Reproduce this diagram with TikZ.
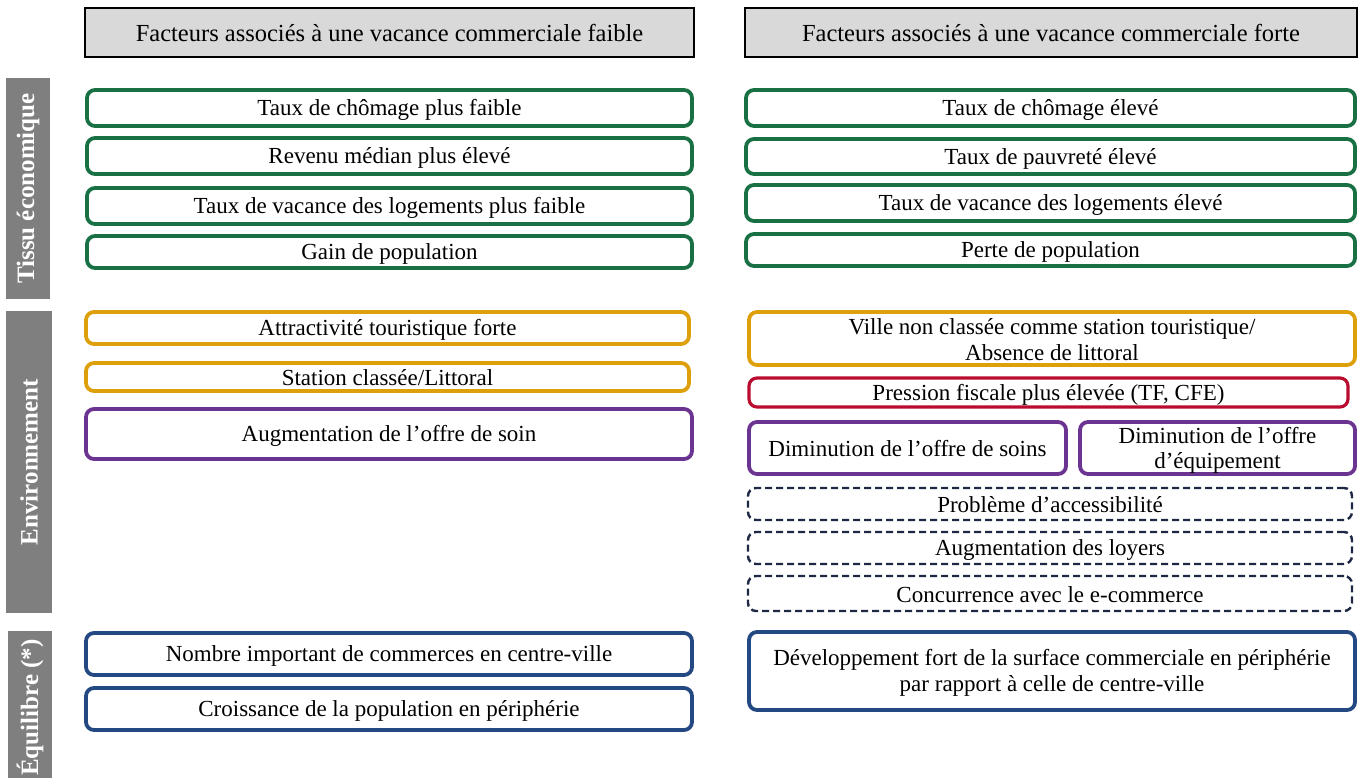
\documentclass[tikz,border=0pt]{standalone}
\usepackage{fontspec}
\setmainfont{Liberation Serif}
\definecolor{cgreen}{RGB}{24,112,68}
\definecolor{corange}{RGB}{222,160,10}
\definecolor{cpurple}{RGB}{107,52,145}
\definecolor{cred}{RGB}{186,12,47}
\definecolor{cblue}{RGB}{36,72,130}
\definecolor{cnavy}{RGB}{30,40,68}
\definecolor{cside}{RGB}{127,127,127}
\definecolor{chead}{RGB}{217,217,217}
\newcommand\fbx[7]{\node[#2, minimum width={(#5-#3)*1pt}, minimum height={(#6-#4)*1pt}] (#1) at ({(#3+#5)/2*1pt},{-(#4+#6)/2*1pt}) {#7};}
\newcommand\st{\rule[-0.12em]{0pt}{1em}}
\begin{document}
\begin{tikzpicture}[
  every node/.style={inner sep=0pt, outer sep=0pt, align=center, font=\fontsize{23}{25}\selectfont},
  headbox/.style={draw=black, fill=chead, line width=1.3pt, font=\fontsize{24.5}{26}\selectfont},
  sidebar/.style={fill=cside},
  sidetext/.style={rotate=90, text=white, font=\fontsize{25}{28}\selectfont\bfseries},
  fbox/.style={draw, rounded corners=8pt},
  gbox/.style={fbox, draw=cgreen, line width=3.8pt},
  obox/.style={fbox, draw=corange, line width=3.8pt},
  pbox/.style={fbox, draw=cpurple, line width=3.8pt},
  rbox/.style={fbox, draw=cred, line width=3.2pt},
  bbox/.style={fbox, draw=cblue, line width=3.8pt},
  dbox/.style={fbox, draw=cnavy, line width=2.4pt, dash pattern=on 7pt off 4pt}
]
\useasboundingbox (0,0) rectangle (1362pt,-778pt);
% headers
\fbx{h1}{headbox}{85}{8}{694}{57}{Facteurs associés à une vacance commerciale faible\st}
\fbx{h2}{headbox}{745}{8}{1357}{57}{Facteurs associés à une vacance commerciale forte\st}
% side bars
\fbx{s1}{sidebar}{6}{78}{50}{299}{}
\node[sidetext] (s1t) at (s1.center) {Tissu économique};
\fbx{s2}{sidebar}{6}{311}{52}{613}{}
\node[sidetext] (s2t) at (s2.center) {Environnement};
\fbx{s3}{sidebar}{8}{631}{52}{778}{}
\node[sidetext] (s3t) at ([yshift=-3pt]s3.center) {Équilibre (*)};
% left column
\fbx{l1}{gbox}{87}{90}{692}{126}{Taux de chômage plus faible\st}
\fbx{l2}{gbox}{87}{138}{692}{174}{Revenu médian plus élevé\st}
\fbx{l3}{gbox}{87}{188}{692}{224}{Taux de vacance des logements plus faible\st}
\fbx{l4}{gbox}{87}{236}{692}{268}{Gain de population\st}
\fbx{l5}{obox}{86}{312}{689}{344}{Attractivité touristique forte\st}
\fbx{l6}{obox}{86}{363}{689}{391}{Station classée/Littoral\st}
\fbx{l7}{pbox}{86}{409}{692}{459}{Augmentation de l’offre de soin\st}
\fbx{l8}{bbox}{86}{633}{692}{675}{Nombre important de commerces en centre-ville\st}
\fbx{l9}{bbox}{86}{688}{692}{730}{Croissance de la population en périphérie\st}
% right column
\fbx{r1}{gbox}{746}{90}{1355}{126}{Taux de chômage élevé\st}
\fbx{r2}{gbox}{746}{139}{1355}{174}{Taux de pauvreté élevé\st}
\fbx{r3}{gbox}{746}{185}{1355}{221}{Taux de vacance des logements élevé\st}
\fbx{r4}{gbox}{746}{234}{1355}{266}{Perte de population\st}
\fbx{r5}{obox}{749}{312}{1355}{365}{\st Ville non classée comme station touristique/\\Absence de littoral\st}
\fbx{r6}{rbox}{749}{378}{1348}{407}{Pression fiscale plus élevée (TF, CFE)\st}
\fbx{r7}{pbox}{749}{422}{1066}{474}{Diminution de l’offre de soins\st}
\fbx{r8}{pbox}{1080}{422}{1355}{474}{\st Diminution de l’offre\\d’équipement\st}
\fbx{r9}{dbox}{748}{488}{1352}{520}{Problème d’accessibilité\st}
\fbx{r10}{dbox}{748}{532}{1352}{564}{Augmentation des loyers\st}
\fbx{r11}{dbox}{748}{576}{1352}{611}{Concurrence avec le e-commerce\st}
\fbx{r12}{bbox}{749}{632}{1355}{710}{\st Développement fort de la surface commerciale en périphérie\\par rapport à celle de centre-ville\st}
\end{tikzpicture}
\end{document}
